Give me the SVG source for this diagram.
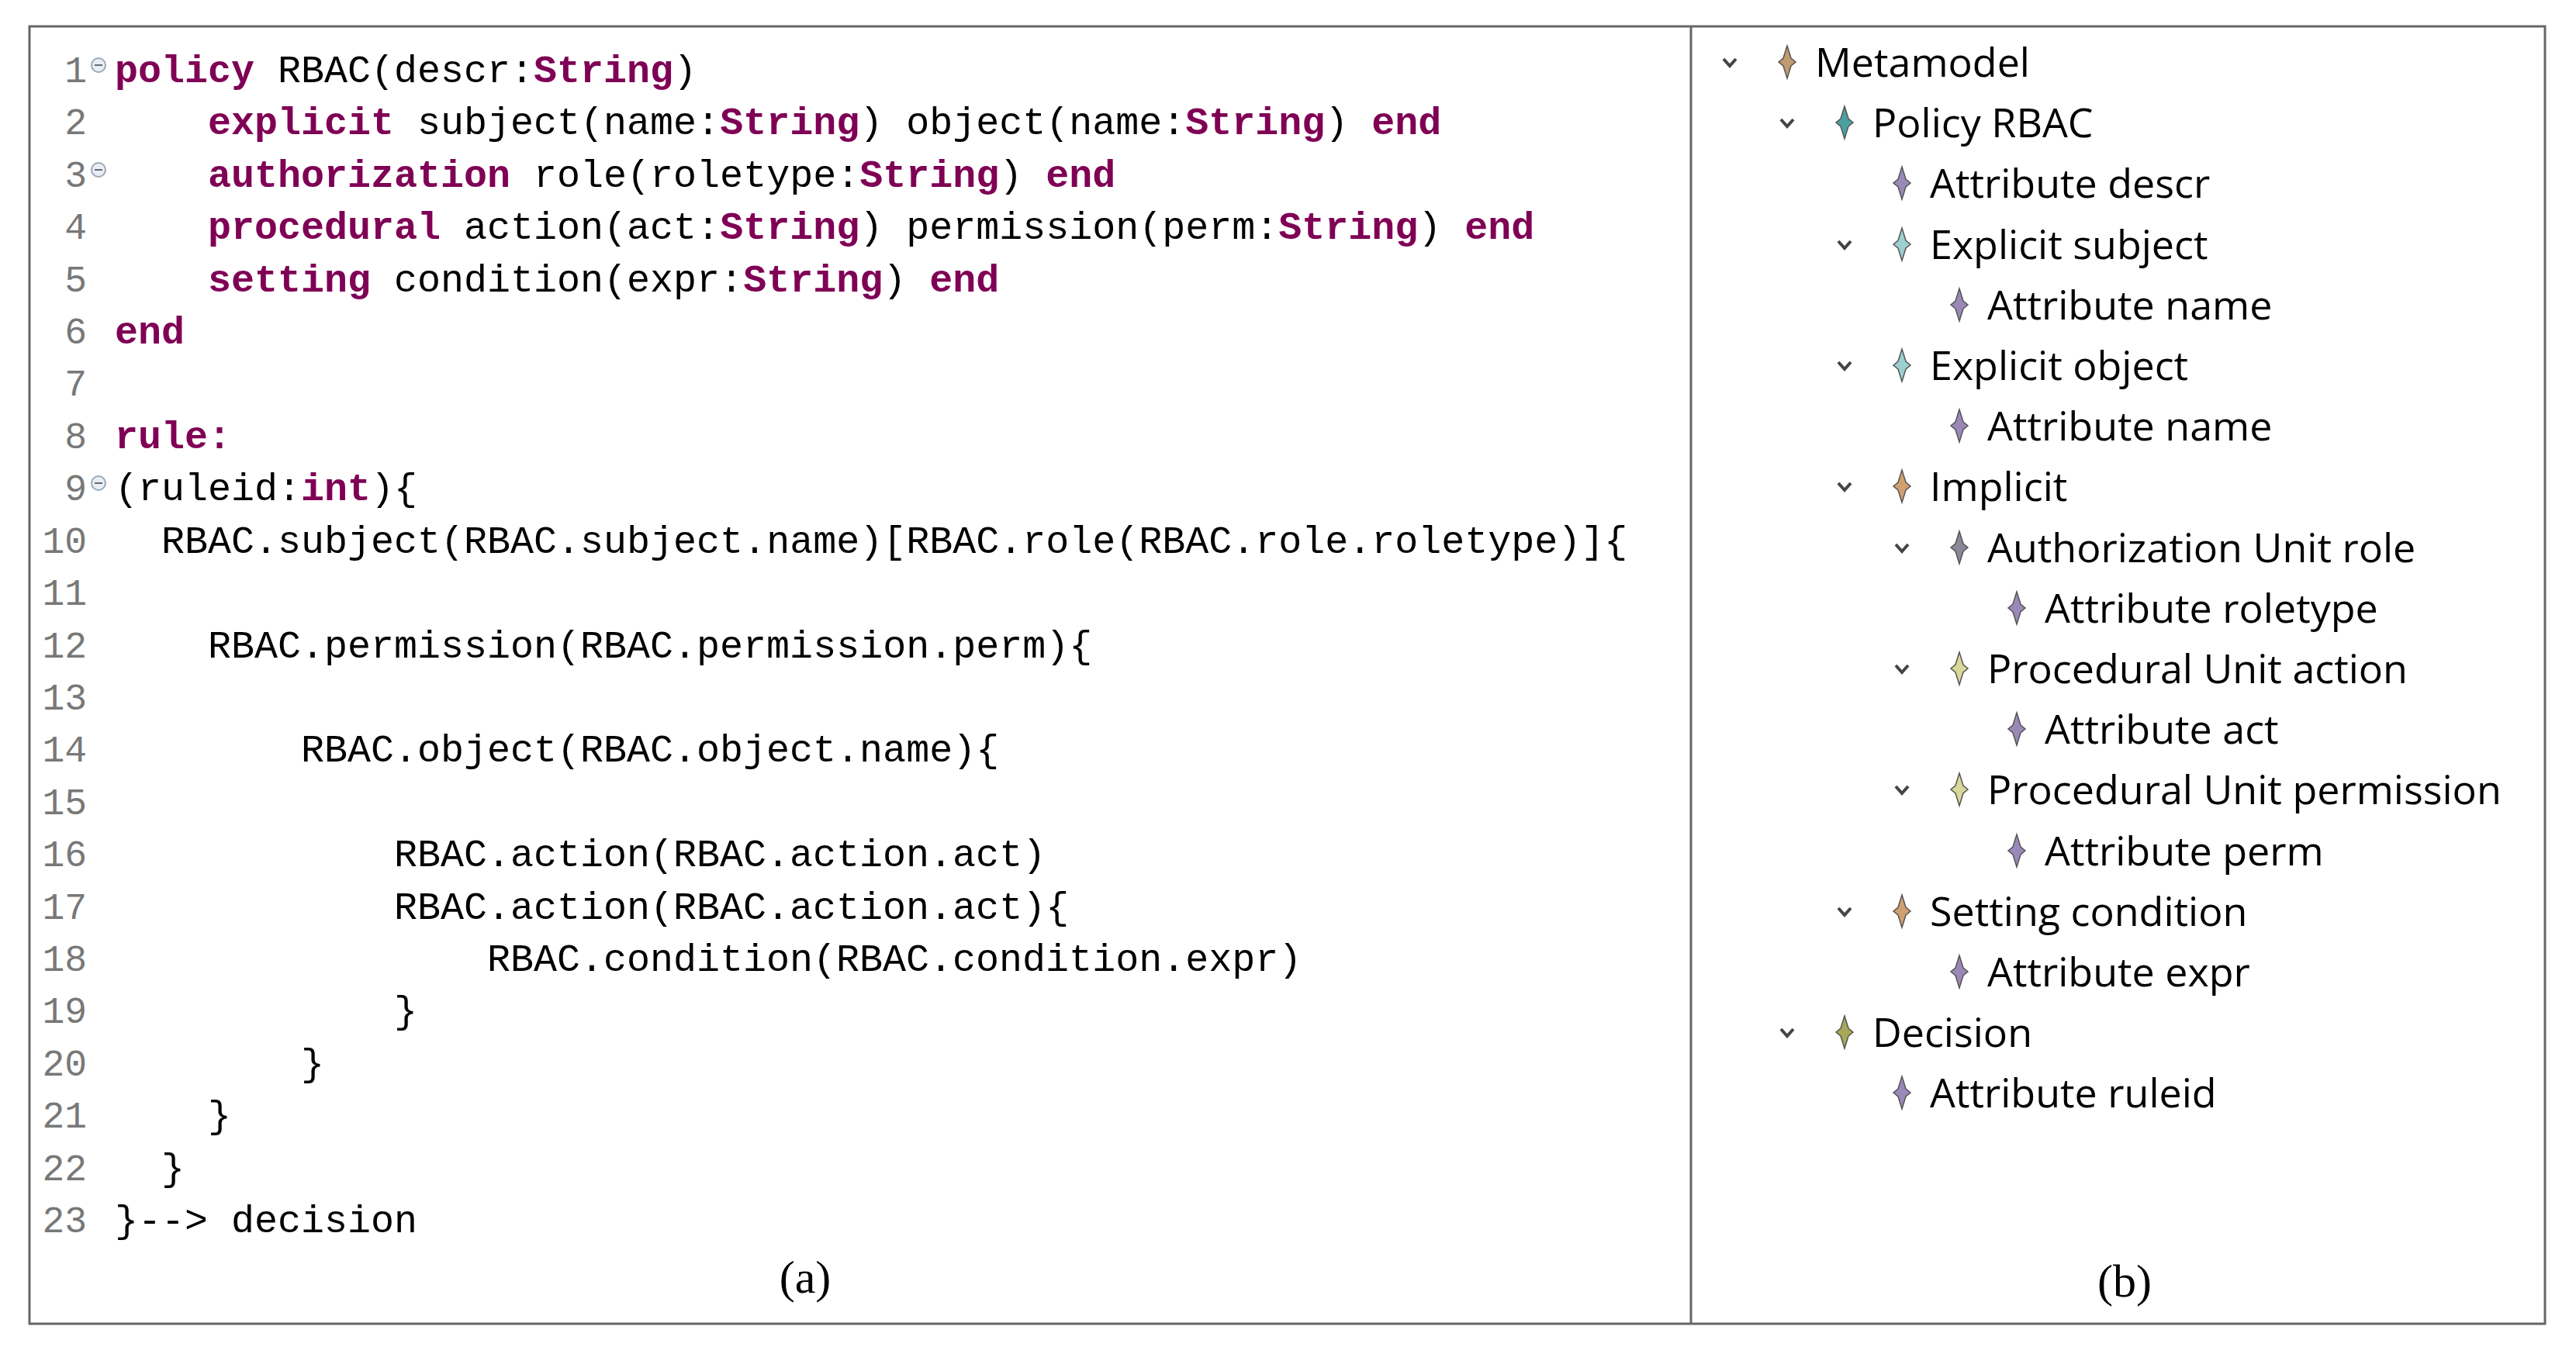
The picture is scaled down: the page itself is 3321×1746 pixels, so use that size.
<svg xmlns="http://www.w3.org/2000/svg" width="3321" height="1746" viewBox="0 0 3321 1746">
<style>
.c{font-family:"Liberation Mono",monospace;font-size:50px;fill:#000;white-space:pre}
.k{fill:#7F0055;font-weight:bold}
.n{font-family:"Liberation Mono",monospace;font-size:48px;fill:#787878;text-anchor:end}
.t{font-family:"Open Sans","Noto Sans",sans-serif;font-size:52px;fill:#000}
.cap{font-family:"Liberation Serif",serif;font-size:60px;fill:#000;text-anchor:middle}
.chev{fill:none;stroke:#444;stroke-width:4}
.fold{fill:#e8eef4;stroke:#9aa8b8;stroke-width:2}
</style>
<defs>
<path id="star" d="M0,-21 L5,-5 L11,0 L5,5 L0,21 L-5,5 L-11,0 L-5,-5 Z" stroke="#555" stroke-width="1.5"/>
<path id="chv" d="M-8,-4 L0,5 L8,-4" class="chev"/>
</defs>
<rect x="0" y="0" width="3321" height="1746" fill="#fff"/>
<rect x="38" y="34" width="3243" height="1673" fill="none" stroke="#666" stroke-width="3"/>
<line x1="2180" y1="34" x2="2180" y2="1707" stroke="#666" stroke-width="3"/>
<g id="code">
<g id="linenumbers">
<text class="n" x="112" y="106">1</text><text class="n" x="112" y="173">2</text><text class="n" x="112" y="241">3</text><text class="n" x="112" y="308">4</text><text class="n" x="112" y="376">5</text><text class="n" x="112" y="443">6</text><text class="n" x="112" y="510">7</text><text class="n" x="112" y="578">8</text><text class="n" x="112" y="645">9</text><text class="n" x="112" y="713">10</text><text class="n" x="112" y="780">11</text><text class="n" x="112" y="848">12</text><text class="n" x="112" y="915">13</text><text class="n" x="112" y="982">14</text><text class="n" x="112" y="1050">15</text><text class="n" x="112" y="1117">16</text><text class="n" x="112" y="1185">17</text><text class="n" x="112" y="1252">18</text><text class="n" x="112" y="1319">19</text><text class="n" x="112" y="1387">20</text><text class="n" x="112" y="1454">21</text><text class="n" x="112" y="1522">22</text><text class="n" x="112" y="1589">23</text>
<circle class="fold" cx="127" cy="84" r="9"/><line x1="122" y1="84" x2="132" y2="84" stroke="#667" stroke-width="2"/>
<circle class="fold" cx="127" cy="219" r="9"/><line x1="122" y1="219" x2="132" y2="219" stroke="#667" stroke-width="2"/>
<circle class="fold" cx="127" cy="623" r="9"/><line x1="122" y1="623" x2="132" y2="623" stroke="#667" stroke-width="2"/>
</g>
<text class="c" x="148" y="106"><tspan class="k">policy</tspan> RBAC(descr:<tspan class="k">String</tspan>)</text>
<text class="c" x="268" y="173"><tspan class="k">explicit</tspan> subject(name:<tspan class="k">String</tspan>) object(name:<tspan class="k">String</tspan>) <tspan class="k">end</tspan></text>
<text class="c" x="268" y="241"><tspan class="k">authorization</tspan> role(roletype:<tspan class="k">String</tspan>) <tspan class="k">end</tspan></text>
<text class="c" x="268" y="308"><tspan class="k">procedural</tspan> action(act:<tspan class="k">String</tspan>) permission(perm:<tspan class="k">String</tspan>) <tspan class="k">end</tspan></text>
<text class="c" x="268" y="376"><tspan class="k">setting</tspan> condition(expr:<tspan class="k">String</tspan>) <tspan class="k">end</tspan></text>
<text class="c" x="148" y="443"><tspan class="k">end</tspan></text>
<text class="c" x="148" y="578"><tspan class="k">rule:</tspan></text>
<text class="c" x="148" y="645">(ruleid:<tspan class="k">int</tspan>){</text>
<text class="c" x="208" y="713">RBAC.subject(RBAC.subject.name)[RBAC.role(RBAC.role.roletype)]{</text>
<text class="c" x="268" y="848">RBAC.permission(RBAC.permission.perm){</text>
<text class="c" x="388" y="982">RBAC.object(RBAC.object.name){</text>
<text class="c" x="508" y="1117">RBAC.action(RBAC.action.act)</text>
<text class="c" x="508" y="1185">RBAC.action(RBAC.action.act){</text>
<text class="c" x="628" y="1252">RBAC.condition(RBAC.condition.expr)</text>
<text class="c" x="508" y="1319">}</text>
<text class="c" x="388" y="1387">}</text>
<text class="c" x="268" y="1454">}</text>
<text class="c" x="208" y="1522">}</text>
<text class="c" x="148" y="1589">}--&gt; decision</text>
</g>
<text class="cap" x="1038" y="1667">(a)</text>
<text class="cap" x="2739" y="1672">(b)</text>
<g id="tree">
<g id="r0"><use href="#chv" x="2230" y="80"/><use href="#star" x="2304" y="80" fill="#c09a70"/><text class="t" x="2340" y="99">Metamodel</text></g>
<g id="r1"><use href="#chv" x="2304" y="158"/><use href="#star" x="2378" y="158" fill="#4aa0a0"/><text class="t" x="2414" y="177">Policy RBAC</text></g>
<g id="r2"><use href="#star" x="2452" y="236" fill="#9a88b8"/><text class="t" x="2488" y="255">Attribute descr</text></g>
<g id="r3"><use href="#chv" x="2378" y="315"/><use href="#star" x="2452" y="315" fill="#9cd0d0"/><text class="t" x="2488" y="334">Explicit subject</text></g>
<g id="r4"><use href="#star" x="2526" y="393" fill="#9a88b8"/><text class="t" x="2562" y="412">Attribute name</text></g>
<g id="r5"><use href="#chv" x="2378" y="471"/><use href="#star" x="2452" y="471" fill="#9cd0d0"/><text class="t" x="2488" y="490">Explicit object</text></g>
<g id="r6"><use href="#star" x="2526" y="549" fill="#9a88b8"/><text class="t" x="2562" y="568">Attribute name</text></g>
<g id="r7"><use href="#chv" x="2378" y="627"/><use href="#star" x="2452" y="627" fill="#d0a070"/><text class="t" x="2488" y="646">Implicit</text></g>
<g id="r8"><use href="#chv" x="2452" y="706"/><use href="#star" x="2526" y="706" fill="#888898"/><text class="t" x="2562" y="725">Authorization Unit role</text></g>
<g id="r9"><use href="#star" x="2600" y="784" fill="#9a88b8"/><text class="t" x="2636" y="803">Attribute roletype</text></g>
<g id="r10"><use href="#chv" x="2452" y="862"/><use href="#star" x="2526" y="862" fill="#d8d89a"/><text class="t" x="2562" y="881">Procedural Unit action</text></g>
<g id="r11"><use href="#star" x="2600" y="940" fill="#9a88b8"/><text class="t" x="2636" y="959">Attribute act</text></g>
<g id="r12"><use href="#chv" x="2452" y="1018"/><use href="#star" x="2526" y="1018" fill="#d8d89a"/><text class="t" x="2562" y="1037">Procedural Unit permission</text></g>
<g id="r13"><use href="#star" x="2600" y="1097" fill="#9a88b8"/><text class="t" x="2636" y="1116">Attribute perm</text></g>
<g id="r14"><use href="#chv" x="2378" y="1175"/><use href="#star" x="2452" y="1175" fill="#d0a070"/><text class="t" x="2488" y="1194">Setting condition</text></g>
<g id="r15"><use href="#star" x="2526" y="1253" fill="#9a88b8"/><text class="t" x="2562" y="1272">Attribute expr</text></g>
<g id="r16"><use href="#chv" x="2304" y="1331"/><use href="#star" x="2378" y="1331" fill="#a8a858"/><text class="t" x="2414" y="1350">Decision</text></g>
<g id="r17"><use href="#star" x="2452" y="1409" fill="#9a88b8"/><text class="t" x="2488" y="1428">Attribute ruleid</text></g>
</g>
</svg>
